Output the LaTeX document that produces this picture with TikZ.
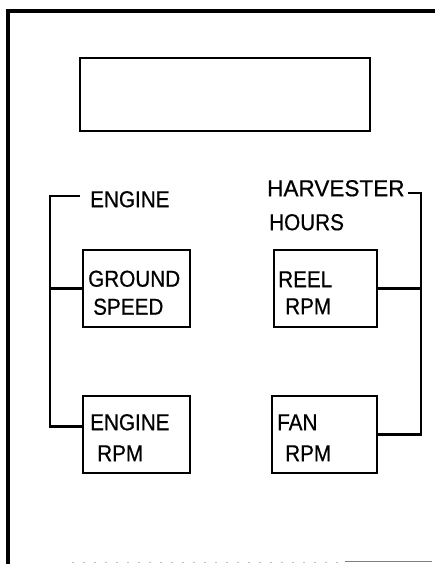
\documentclass[tikz,border=0pt]{standalone}
\usepackage{fontspec}
\setmainfont{Liberation Sans}[FakeBold=0.6, FakeStretch=0.9]
\newfontfamily\widefont{Liberation Sans}[FakeBold=0.6, FakeStretch=0.98]
\usetikzlibrary{calc}
\begin{document}
\begin{tikzpicture}[x=1pt,y=-1pt,
  lbl/.style={font=\fontsize{23}{23}\selectfont, inner sep=0pt, text height=16.4pt, text depth=0pt, anchor=west},
  box/.style={draw, line width=2.6pt, inner sep=0pt, minimum height=77pt},
  wire/.style={line width=2.4pt, line join=miter},
  frame/.style={line width=3.5pt}]
\useasboundingbox (0,0) rectangle (435,564);
% frame
\draw[frame] (8,564) -- (8,11) -- (435,11);
\draw[gray, line width=1pt] (345,561) -- (432,561);
\draw[gray!50, line width=0.8pt, dash pattern=on 2pt off 9pt] (72,562) -- (345,562);
% display
\node[box, minimum width=290pt, minimum height=73pt] (disp) at (225,94.5) {};
% boxes
\node[box, minimum width=107pt] (gs) at (136.5,288.5) {};
\node[box, minimum width=107pt] (er) at (136.5,434.5) {};
\node[box, minimum width=103pt] (reel) at (325.5,288.5) {};
\node[box, minimum width=105pt] (fan) at (324.5,434.5) {};
% labels
\node[lbl] (eng) at (90,199) {ENGINE};
\node[lbl, font=\fontsize{23}{23}\widefont] (harv) at (267,188) {HARVESTER};
\node[lbl] (hours) at (269,222) {HOURS};
\node[lbl] (gs1) at (88,278.5) {GROUND};
\node[lbl] (gs2) at (93,306.5) {SPEED};
\node[lbl] (er1) at (90,422) {ENGINE};
\node[lbl] (er2) at (97,453) {RPM};
\node[lbl] (re1) at (278,279) {REEL};
\node[lbl] (re2) at (285,306) {RPM};
\node[lbl] (fa1) at (277,422) {FAN};
\node[lbl] (fa2) at (285,453) {RPM};
% connectors
\coordinate (ltip) at (80,196);
\coordinate (ltop) at (50,196);
\coordinate (rtip) at (408,193);
\coordinate (rtop) at (421,193);
\draw[wire] (ltip) -- (ltop) |- ($(er.north west)!0.4!(er.south west)$);
\draw[wire] (gs.west) -- (gs.west -| ltop);
\draw[wire] (rtip) -- (rtop) |- (fan.east);
\draw[wire] (reel.east) -- (reel.east -| rtop);
\end{tikzpicture}
\end{document}
